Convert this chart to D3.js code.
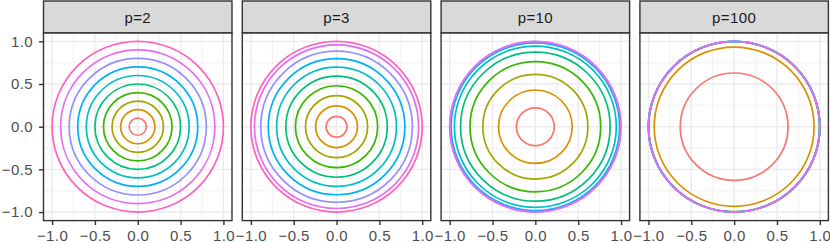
<!DOCTYPE html>
<html>
<head>
<meta charset="utf-8">
<script src="https://cdn.jsdelivr.net/npm/d3@7"></script>
<style>
  html, body { margin: 0; padding: 0; background: #ffffff; }
  svg { display: block; }
  text { font-family: "Liberation Sans", Arial, sans-serif; letter-spacing: 0.4px; }
</style>
</head>
<body>
<svg id="chart" width="830" height="243"></svg>
<script>
// ---- data ----
const panels = ["p=2", "p=3", "p=10", "p=100"];
const levels = ["0.1", "0.2", "0.3", "0.4", "0.5", "0.6", "0.7", "0.8", "0.9", "1.0"];
const colors = ["#F8766D", "#D89000", "#A3A500", "#39B600", "#00BF7D",
                "#00BFC4", "#00B0F6", "#9590FF", "#E76BF3", "#FF62BC"];
// radius of each ring (null = ring not visible in that panel)
const radiusP2   = [0.100, 0.200, 0.300, 0.400, 0.500, 0.600, 0.700, 0.800, 0.900, 1.000];
const radiusP3   = [0.122, 0.244, 0.363, 0.480, 0.592, 0.699, 0.797, 0.885, 0.958, 1.000];
const radiusP10  = [0.221, 0.430, 0.613, 0.763, 0.873, 0.945, 0.983, 0.997, 1.000, null];
const radiusP100 = [0.629, 0.933, 0.996, 1.000, 1.000, 1.000, 1.000, 1.000, 1.000, null];
const radii = [radiusP2, radiusP3, radiusP10, radiusP100];
const majorTicks = [-1.0, -0.5, 0.0, 0.5, 1.0];
const tickLabels = ["\u22121.0", "\u22120.5", "0.0", "0.5", "1.0"];
const minorTicks = [-0.75, -0.25, 0.25, 0.75];

// ---- layout ----
const svg = d3.select("#chart");
const left0 = 43.5, pw = 188.5, gap = 10.3;
const panelTop = 32.8, ph = 187.8, stripTop = 1;
const domain = [-1.1, 1.1];
const fmt = d => tickLabels[majorTicks.indexOf(d)];
const fs = 15;

panels.forEach((name, i) => {
  const x0 = left0 + i * (pw + gap);
  const x = d3.scaleLinear().domain(domain).range([x0, x0 + pw]);
  const y = d3.scaleLinear().domain(domain).range([panelTop + ph, panelTop]);
  const g = svg.append("g");

  g.append("rect").attr("x", x0).attr("y", panelTop).attr("width", pw).attr("height", ph)
    .attr("fill", "#ffffff");

  // minor grid
  g.selectAll(".vmin").data(minorTicks).join("line").attr("class", "vmin")
    .attr("x1", d => x(d)).attr("x2", d => x(d)).attr("y1", panelTop).attr("y2", panelTop + ph)
    .attr("stroke", "#EBEBEB").attr("stroke-width", 0.7);
  g.selectAll(".hmin").data(minorTicks).join("line").attr("class", "hmin")
    .attr("y1", d => y(d)).attr("y2", d => y(d)).attr("x1", x0).attr("x2", x0 + pw)
    .attr("stroke", "#EBEBEB").attr("stroke-width", 0.7);
  // major grid
  g.selectAll(".vmaj").data(majorTicks).join("line").attr("class", "vmaj")
    .attr("x1", d => x(d)).attr("x2", d => x(d)).attr("y1", panelTop).attr("y2", panelTop + ph)
    .attr("stroke", "#EBEBEB").attr("stroke-width", 1.4);
  g.selectAll(".hmaj").data(majorTicks).join("line").attr("class", "hmaj")
    .attr("y1", d => y(d)).attr("y2", d => y(d)).attr("x1", x0).attr("x2", x0 + pw)
    .attr("stroke", "#EBEBEB").attr("stroke-width", 1.4);

  // circles
  const data = radii[i].map((r, k) => ({ r, c: colors[k], lev: levels[k] }))
    .filter(d => d.r !== null);
  g.selectAll("ellipse.ring").data(data).join("ellipse")
    .attr("class", "ring")
    .attr("cx", x(0)).attr("cy", y(0))
    .attr("rx", d => x(d.r) - x(0)).attr("ry", d => y(0) - y(d.r))
    .attr("fill", "none").attr("stroke", d => d.c).attr("stroke-width", 1.7);

  // panel border
  g.append("rect").attr("x", x0).attr("y", panelTop).attr("width", pw).attr("height", ph)
    .attr("fill", "none").attr("stroke", "#333333").attr("stroke-width", 1.4);

  // strip
  g.append("rect").attr("x", x0).attr("y", stripTop).attr("width", pw).attr("height", panelTop - stripTop)
    .attr("fill", "#D9D9D9").attr("stroke", "#333333").attr("stroke-width", 1.4);
  g.append("text").attr("x", x0 + pw / 2).attr("y", 22.5)
    .attr("text-anchor", "middle").attr("font-size", fs).attr("fill", "#1A1A1A")
    .text(name);

  // x axis
  const xAxis = d3.axisBottom(x).tickValues(majorTicks).tickSize(4.5).tickSizeOuter(0).tickFormat(fmt);
  const ax = g.append("g").attr("transform", `translate(0,${panelTop + ph})`).call(xAxis);
  ax.select(".domain").remove();
  ax.selectAll(".tick line").attr("stroke", "#333333").attr("stroke-width", 1.4);
  ax.selectAll(".tick text").attr("fill", "#4D4D4D").attr("font-size", fs)
    .attr("font-family", "Liberation Sans, Arial, sans-serif").attr("dy", null).attr("y", 20.5);

  if (i === 0) {
    const yAxis = d3.axisLeft(y).tickValues(majorTicks).tickSize(4.5).tickSizeOuter(0).tickFormat(fmt);
    const ay = g.append("g").attr("transform", `translate(${x0},0)`).call(yAxis);
    ay.select(".domain").remove();
    ay.selectAll(".tick line").attr("stroke", "#333333").attr("stroke-width", 1.4);
    ay.selectAll(".tick text").attr("fill", "#4D4D4D").attr("font-size", fs)
      .attr("font-family", "Liberation Sans, Arial, sans-serif").attr("x", -10.5);
  }
});
</script>
</body>
</html>
